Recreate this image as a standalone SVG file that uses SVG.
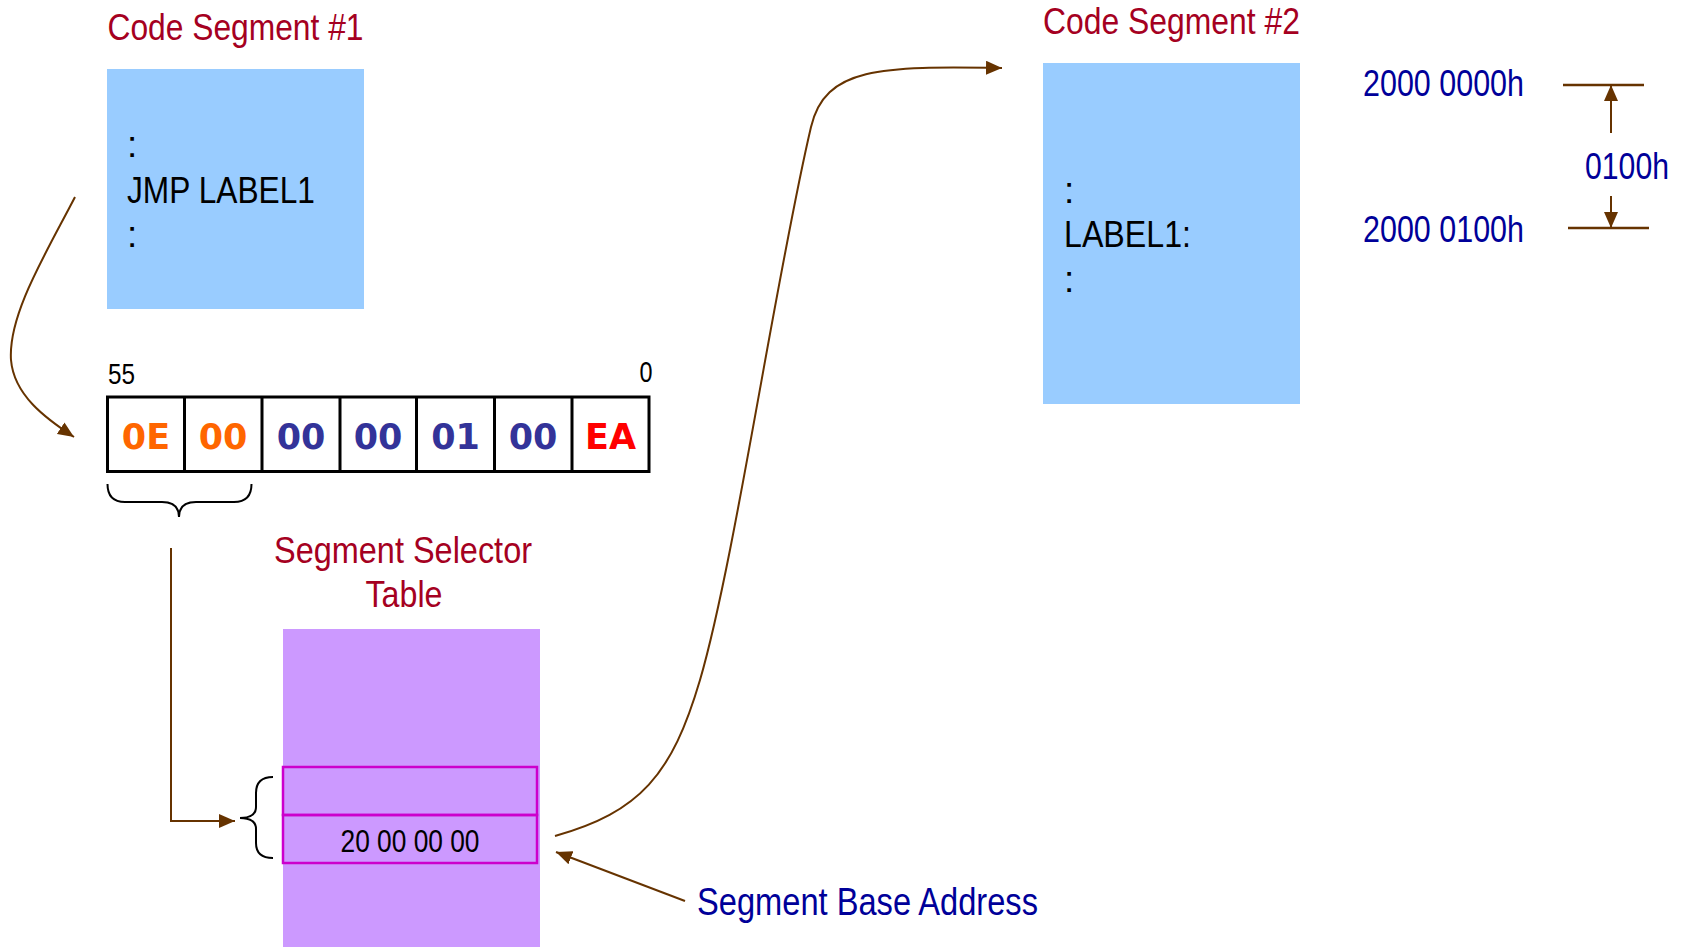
<svg xmlns="http://www.w3.org/2000/svg" width="1686" height="947" viewBox="0 0 1686 947">
<defs>
<style>
.n{font-family:"Liberation Sans Narrow","Liberation Sans",Arial,sans-serif;}
.title{fill:#A50021;font-size:37px;}
.code{fill:#000;font-size:37px;}
.addr{fill:#000099;font-size:37px;}
.byte{font-family:"DejaVu Sans",Verdana,sans-serif;font-weight:bold;font-size:35px;text-anchor:middle;}
.cell{fill:#fff;stroke:#000;stroke-width:3;}
.conn{fill:none;stroke:#663300;stroke-width:2;}
.brace{fill:none;stroke:#000;stroke-width:2;}
.row{fill:none;stroke:#CC00CC;stroke-width:2.5;}
</style>
<marker id="arr" viewBox="0 0 16 14" refX="16" refY="7" markerWidth="16" markerHeight="14" markerUnits="userSpaceOnUse" orient="auto">
<path d="M0,0 L16,7 L0,14 Z" fill="#663300"/>
</marker>
</defs>
<rect width="1686" height="947" fill="#fff"/>

<g id="code-segment-1">
<text class="n title" x="107.5" y="40" textLength="256" lengthAdjust="spacingAndGlyphs">Code Segment #1</text>
<rect x="107" y="69" width="257" height="240" fill="#99CCFF"/>
<text class="n code" x="127" y="157">:</text>
<text class="n code" x="127" y="203" textLength="188" lengthAdjust="spacingAndGlyphs">JMP LABEL1</text>
<text class="n code" x="127" y="247">:</text>
</g>

<g id="instruction-bytes">
<text class="n" x="108" y="384" font-size="30" textLength="27" lengthAdjust="spacingAndGlyphs">55</text>
<text class="n" x="652.5" y="382" font-size="30" text-anchor="end" textLength="13" lengthAdjust="spacingAndGlyphs">0</text>
<rect class="cell" x="107.5" y="397" width="541.5" height="74.5"/>
<path d="M184.5,397V471.5M262,397V471.5M340,397V471.5M416.5,397V471.5M494.5,397V471.5M572,397V471.5" stroke="#000" stroke-width="3"/>
<text class="byte" x="146" y="449" fill="#FF6600">0E</text>
<text class="byte" x="223" y="449" fill="#FF6600">00</text>
<text class="byte" x="301" y="449" fill="#333399">00</text>
<text class="byte" x="378" y="449" fill="#333399">00</text>
<text class="byte" x="455.5" y="449" fill="#333399">01</text>
<text class="byte" x="533" y="449" fill="#333399">00</text>
<text class="byte" x="610.5" y="449" fill="#FF0000">EA</text>
<path class="brace" d="M107.5,484 Q107.5,502 125,502 L162,502 Q179,502 179,517 Q179,502 196,502 L234,502 Q251.5,502 251.5,484"/>
</g>

<g id="segment-selector-table">
<text class="n title" x="403" y="563" font-size="35" text-anchor="middle" textLength="258" lengthAdjust="spacingAndGlyphs">Segment Selector</text>
<text class="n title" x="404" y="607" font-size="35" text-anchor="middle" textLength="77" lengthAdjust="spacingAndGlyphs">Table</text>
<rect x="283" y="629" width="257" height="318" fill="#CC99FF"/>
<rect class="row" x="283" y="767" width="254" height="48"/>
<rect class="row" x="283" y="815" width="254" height="48"/>
<text class="n" x="410" y="852" font-size="31" text-anchor="middle" textLength="139" lengthAdjust="spacingAndGlyphs">20 00 00 00</text>
<path class="brace" d="M273,777 Q256,777 256,793 L256,807 Q256,818 240,818 Q256,818 256,829 L256,843 Q256,858 273,858"/>
</g>

<g id="segment-base-address">
<text class="n" x="697" y="915" font-size="38" fill="#000099" textLength="341" lengthAdjust="spacingAndGlyphs">Segment Base Address</text>
</g>

<g id="code-segment-2">
<text class="n title" x="1043" y="34" textLength="257" lengthAdjust="spacingAndGlyphs">Code Segment #2</text>
<rect x="1043" y="63" width="257" height="341" fill="#99CCFF"/>
<text class="n code" x="1064" y="203">:</text>
<text class="n code" x="1064" y="247" textLength="127" lengthAdjust="spacingAndGlyphs">LABEL1:</text>
<text class="n code" x="1064" y="292">:</text>
</g>

<g id="addresses">
<text class="n addr" x="1363" y="96" textLength="161" lengthAdjust="spacingAndGlyphs">2000 0000h</text>
<text class="n addr" x="1363" y="242" textLength="161" lengthAdjust="spacingAndGlyphs">2000 0100h</text>
<text class="n addr" x="1585" y="179" font-size="36" textLength="84" lengthAdjust="spacingAndGlyphs">0100h</text>
<path d="M1563,85H1644M1568,228H1649" stroke="#663300" stroke-width="2.5" fill="none"/>
</g>

<g id="connectors">
<path class="conn" d="M75,197 C45,255 8,315 11,360 C14,395 45,418 74,437" marker-end="url(#arr)"/>
<path class="conn" d="M171,548 V821 H235" marker-end="url(#arr)"/>
<path class="conn" d="M555,836 C640,812 672,775 700,680 C735,560 775,280 811,127 C825,67 880,66 1002,68" marker-end="url(#arr)"/>
<path class="conn" d="M685,901 L556,852" marker-end="url(#arr)"/>
<path class="conn" d="M1611,133 V85" marker-end="url(#arr)"/>
<path class="conn" d="M1611,196 V228" marker-end="url(#arr)"/>
</g>
</svg>
